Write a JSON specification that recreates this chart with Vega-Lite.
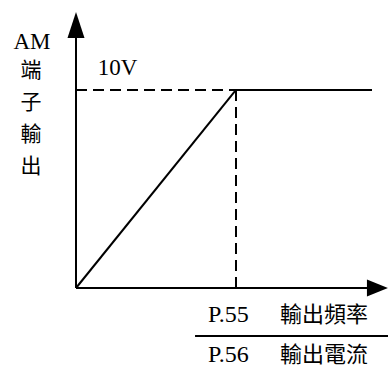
{
  "$schema": "https://vega.github.io/schema/vega-lite/v6.json",
  "width": 388,
  "height": 367,
  "padding": 0,
  "autosize": {"type": "none"},
  "background": "white",
  "config": {"view": {"stroke": null}},
  "datasets": {
    "solid": [
      {"seg": "y-axis", "x": 0, "y": 0, "x2": 0, "y2": 12.63},
      {"seg": "x-axis", "x": 0, "y": 0, "x2": 1.82, "y2": 0},
      {"seg": "ramp", "x": 0, "y": 0, "x2": 1, "y2": 10},
      {"seg": "flat", "x": 1, "y": 10, "x2": 1.85, "y2": 10},
      {"seg": "separator", "x": 0.744, "y": -2.424, "x2": 1.95, "y2": -2.424}
    ],
    "dashed": [
      {"seg": "h", "x": 0, "y": 10, "x2": 1, "y2": 10},
      {"seg": "v", "x": 1, "y": 10, "x2": 1, "y2": 0}
    ],
    "arrows": [
      {"dir": "up", "x": 0, "y": 13.28},
      {"dir": "right", "x": 1.884, "y": 0}
    ],
    "latin": [
      {"group": "center", "x": -0.275, "y": 12.4, "text": "AM"},
      {"group": "center", "x": 0.259, "y": 11.11, "text": "10V"},
      {"group": "left", "x": 0.825, "y": -1.364, "text": "P.55"},
      {"group": "left", "x": 0.825, "y": -3.384, "text": "P.56"}
    ],
    "cjk": [
      {"group": "center", "x": -0.281, "y": 10.95, "text": "端"},
      {"group": "center", "x": -0.281, "y": 9.36, "text": "子"},
      {"group": "center", "x": -0.281, "y": 7.73, "text": "輸"},
      {"group": "center", "x": -0.281, "y": 6.11, "text": "出"},
      {"group": "left", "x": 1.275, "y": -1.364, "text": "輸出頻率"},
      {"group": "left", "x": 1.275, "y": -3.384, "text": "輸出電流"}
    ]
  },
  "encoding": {
    "x": {"field": "x", "type": "quantitative", "scale": {"domain": [-0.475, 1.95], "nice": false, "zero": false}, "axis": null},
    "y": {"field": "y", "type": "quantitative", "scale": {"domain": [-3.99, 14.545], "nice": false, "zero": false}, "axis": null}
  },
  "layer": [
    {
      "data": {"name": "solid"},
      "mark": {"type": "rule", "color": "black", "strokeWidth": 2},
      "encoding": {"x2": {"field": "x2"}, "y2": {"field": "y2"}}
    },
    {
      "data": {"name": "dashed"},
      "mark": {"type": "rule", "color": "black", "strokeWidth": 2, "strokeDash": [11, 6]},
      "encoding": {"x2": {"field": "x2"}, "y2": {"field": "y2"}}
    },
    {
      "data": {"name": "arrows"},
      "mark": {"type": "point", "filled": true, "color": "black", "opacity": 1, "size": 676, "strokeWidth": 0},
      "encoding": {
        "shape": {
          "field": "dir",
          "type": "nominal",
          "scale": {"domain": ["up", "right"], "range": ["M0,-1L0.654,1L-0.654,1Z", "M0.808,0L-0.808,-0.654L-0.808,0.654Z"]},
          "legend": null
        }
      }
    },
    {
      "data": {"name": "latin"},
      "transform": [{"filter": "datum.group === 'center'"}],
      "mark": {"type": "text", "font": "Liberation Serif, Times New Roman, serif", "fontSize": 23, "align": "center", "baseline": "middle", "color": "black", "letterSpacing": 1},
      "encoding": {"text": {"field": "text"}}
    },
    {
      "data": {"name": "latin"},
      "transform": [{"filter": "datum.group === 'left'"}],
      "mark": {"type": "text", "font": "Liberation Serif, Times New Roman, serif", "fontSize": 24, "align": "left", "baseline": "middle", "color": "black", "letterSpacing": 2},
      "encoding": {"text": {"field": "text"}}
    },
    {
      "data": {"name": "cjk"},
      "transform": [{"filter": "datum.group === 'center'"}],
      "mark": {"type": "text", "font": "Noto Sans CJK TC", "fontSize": 21, "align": "center", "baseline": "middle", "color": "black"},
      "encoding": {"text": {"field": "text"}}
    },
    {
      "data": {"name": "cjk"},
      "transform": [{"filter": "datum.group === 'left'"}],
      "mark": {"type": "text", "font": "Noto Sans CJK TC", "fontSize": 22, "align": "left", "baseline": "middle", "color": "black", "letterSpacing": 3},
      "encoding": {"text": {"field": "text"}}
    }
  ]
}
